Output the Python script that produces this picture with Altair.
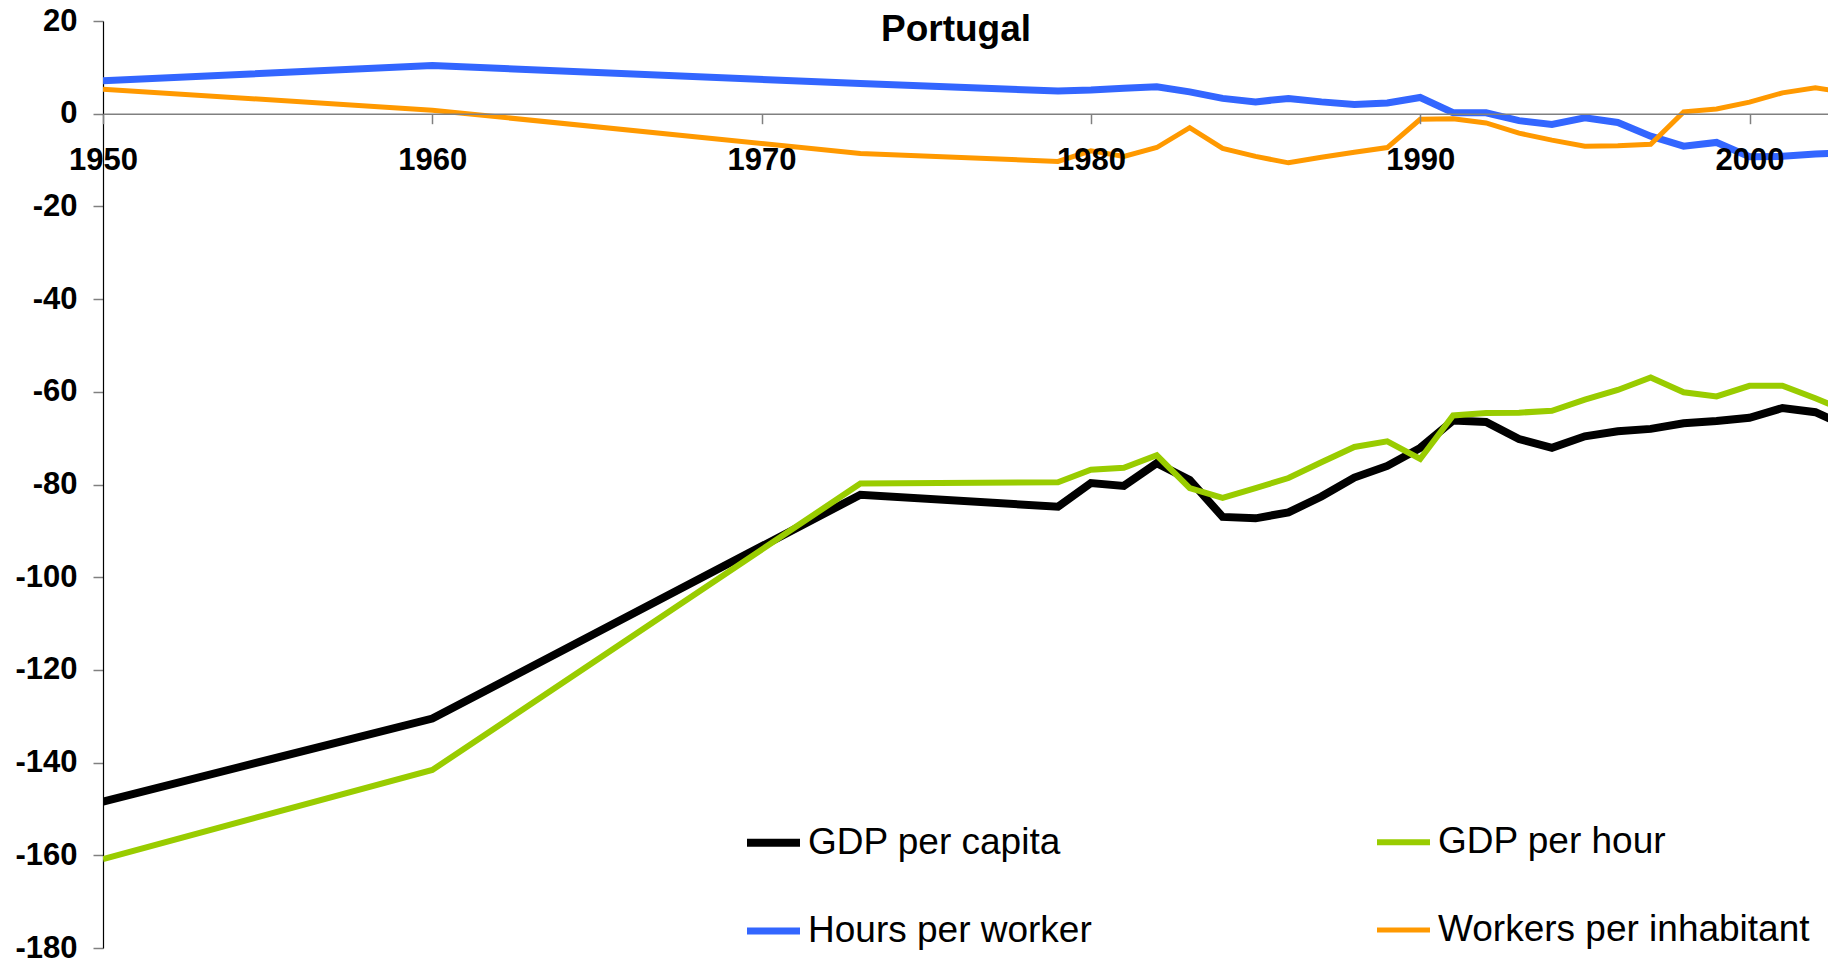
import altair as alt
import pandas as pd

years = [1950, 1960, 1973, 1979, 1980, 1981, 1982, 1983, 1984, 1985, 1986, 1987,
         1988, 1989, 1990, 1991, 1992, 1993, 1994, 1995, 1996, 1997, 1998, 1999,
         2000, 2001, 2002, 2003]

gdp_per_capita = [-148.4, -130.5, -82.2, -84.8, -79.7, -80.3, -75.4, -79.0, -87.0, -87.3,
                  -86.0, -82.6, -78.5, -76.0, -72.1, -66.2, -66.5, -70.2, -72.1, -69.6,
                  -68.5, -68.0, -66.8, -66.3, -65.6, -63.5, -64.4, -67.6]

gdp_per_hour = [-160.8, -141.6, -79.8, -79.5, -76.8, -76.4, -73.7, -80.8, -82.9, -80.8,
                -78.6, -75.2, -71.9, -70.7, -74.5, -65.1, -64.6, -64.5, -64.1, -61.7,
                -59.6, -56.9, -60.1, -61.0, -58.7, -58.7, -61.4, -64.3]

hours_per_worker = [7.1, 10.4, 6.5, 4.9, 5.1, 5.5, 5.8, 4.7, 3.3, 2.55, 3.3, 2.55,
                    1.97, 2.3, 3.5, 0.2, 0.2, -1.5, -2.3, -0.9, -1.9, -4.85, -7.0, -6.2,
                    -9.3, -9.2, -8.7, -8.4]

workers_per_inhabitant = [5.3, 0.75, -8.6, -10.3, -8.0, -9.2, -7.3, -3.0, -7.5, -9.2,
                          -10.6, -9.4, -8.3, -7.3, -1.2, -1.1, -2.0, -4.2, -5.7, -7.0,
                          -6.9, -6.6, 0.4, 1.0, 2.5, 4.5, 5.6, 4.5]

# legend order (column-major grid: capita / hours in first column)
series_names = ["GDP per capita", "Hours per worker", "GDP per hour", "Workers per inhabitant"]
series_colors = ["#000000", "#3366FF", "#99CC00", "#FF9900"]
series_widths = [8, 5, 5, 5]
series_values = {
    "GDP per capita": gdp_per_capita,
    "GDP per hour": gdp_per_hour,
    "Hours per worker": hours_per_worker,
    "Workers per inhabitant": workers_per_inhabitant,
}
y_ticks = [20, 0, -20, -40, -60, -80, -100, -120, -140, -160, -180]
x_ticks = [1950, 1960, 1970, 1980, 1990, 2000]

rows = []
for name in ["GDP per capita", "GDP per hour", "Hours per worker", "Workers per inhabitant"]:
    for yr, v in zip(years, series_values[name]):
        rows.append({"year": yr, "value": v, "series": name})
df = pd.DataFrame(rows)

W = 1725
H = 927
FONT = "Liberation Sans"
ZERO_OFFSET = -(H - H * 20 / 200)

legend_kw = dict(title=None, orient="none", legendX=640, legendY=791,
                 columns=2, columnPadding=273, rowPadding=40,
                 symbolType="stroke", symbolSize=2809,
                 labelFont=FONT, labelFontSize=37, labelColor="#000000",
                 labelOffset=4, labelLimit=0)

chart = alt.Chart(df).mark_line(clip=True).encode(
    x=alt.X("year:Q",
            scale=alt.Scale(domain=[1950, 1950 + W / 32.93], nice=False, zero=False),
            axis=alt.Axis(title=None, values=x_ticks, format="d", grid=False,
                          orient="bottom", offset=ZERO_OFFSET,
                          domainColor="#808080", domainWidth=1.5,
                          tickColor="#808080", tickSize=10, tickWidth=1.5,
                          labelFont=FONT, labelFontSize=31, labelFontWeight="bold",
                          labelColor="#000000", labelPadding=22, labelFlush=False,
                          labelOverlap=False, zindex=1)),
    y=alt.Y("value:Q",
            scale=alt.Scale(domain=[-180, 20], nice=False, zero=False),
            axis=alt.Axis(title=None, values=y_ticks, grid=False,
                          labelExpr="'' + datum.value",
                          domainColor="#000000", domainWidth=1.2,
                          tickColor="#808080", tickSize=10, tickWidth=1.5,
                          labelFont=FONT, labelFontSize=31, labelFontWeight="bold",
                          labelColor="#000000", labelPadding=16, labelOverlap=False)),
    color=alt.Color("series:N",
                    scale=alt.Scale(domain=series_names, range=series_colors),
                    legend=alt.Legend(**legend_kw)),
    strokeWidth=alt.StrokeWidth("series:N",
                                scale=alt.Scale(domain=series_names, range=series_widths),
                                legend=alt.Legend(**legend_kw)),
).properties(
    width=W,
    height=H,
    title=alt.TitleParams("Portugal", anchor="start", frame="group", dx=778, dy=73,
                          font=FONT, fontSize=37, fontWeight="bold", color="#000000",
                          baseline="alphabetic", offset=0),
    padding={"left": 95, "top": 13, "right": 0, "bottom": 11},
    autosize=alt.AutoSizeParams(type="none"),
).configure_view(stroke=None)

chart.save("out.html", embed_options={"renderer": "svg", "actions": False})
